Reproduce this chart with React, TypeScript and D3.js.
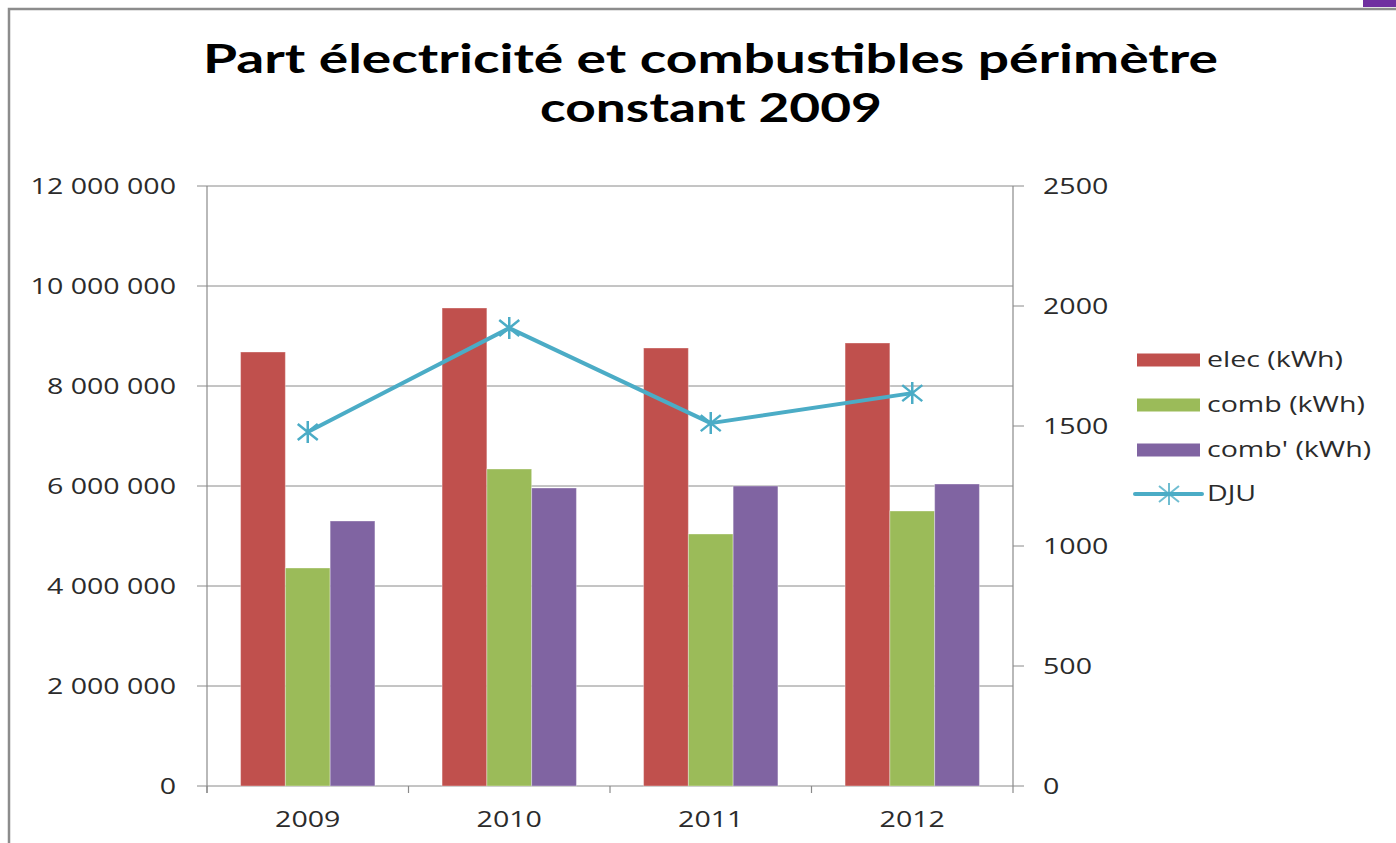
import React from 'react';
import * as d3 from 'd3';

// values
const years = ['2009', '2010', '2011', '2012'];
const elec = [8680000, 9560000, 8760000, 8860000];
const comb = [4360000, 6340000, 5040000, 5500000];
const combPrime = [5300000, 5960000, 6000000, 6040000];
const dju = [1475, 1908, 1512, 1637];

const seriesNames = ['elec (kWh)', 'comb (kWh)', "comb' (kWh)"];
const seriesColors = ['#C0504D', '#9BBB59', '#8064A2'];
const djuName = 'DJU';
const djuColor = '#4BACC6';

const leftTicks = [0, 2000000, 4000000, 6000000, 8000000, 10000000, 12000000];
const rightTicks = [0, 500, 1000, 1500, 2000, 2500];

const titleLines = ['Part électricité et combustibles périmètre', 'constant 2009'];

const W = 1396;
const H = 843;
const font = '"Open Sans", "DejaVu Sans", sans-serif';
const titleFont = 'Lato, "Open Sans", sans-serif';
const textColor = '#2b2b2b';
const gridColor = '#8a8a8a';
const SX = 1.36; // the picture is stretched horizontally

function Txt({ x, y, anchor = 'start', size = 21, weight = 'normal', children }: any) {
  return (
    <text
      transform={`translate(${x},${y}) scale(${SX},1)`}
      textAnchor={anchor}
      fontFamily={font}
      fontSize={size}
      fontWeight={weight}
      fill={textColor}
    >
      {children}
    </text>
  );
}

const starPath = 'M-10,-8L10,8M-10,8L10,-8M0,-11L0,11';

export default function App() {
  const left = 207;
  const right = 1013;
  const top = 186;
  const bottom = 786;

  const x = d3.scaleBand().domain(years).range([left, right]).paddingInner(0).paddingOuter(0);
  const inner = d3.scaleBand().domain(seriesNames).range([0, x.bandwidth()]).paddingInner(0).paddingOuter(0.75);
  const yL = d3.scaleLinear().domain([0, 12000000]).range([bottom, top]);
  const yR = d3.scaleLinear().domain([0, 2500]).range([bottom, top]);

  const fmt = (v: number) => d3.format(',')(v).replace(/,/g, ' ');
  const allSeries = [elec, comb, combPrime];

  const line = d3.line<number>()
    .x((_, i) => (x(years[i]) as number) + x.bandwidth() / 2)
    .y(d => yR(d));

  const legendX = 1137;
  const legendRows = [360, 405, 450, 494];

  return (
    <svg width={W} height={H} style={{ position: 'absolute', left: 0, top: 0, background: '#fff' }}>
      <rect x={0} y={0} width={W} height={H} fill="#fff" />
      {/* slide frame */}
      <rect x={9} y={9} width={W + 10} height={H + 10} fill="none" stroke="#8c8c8c" strokeWidth={2.5} />
      <rect x={1363} y={0} width={W - 1363} height={7} fill="#7030A0" />

      {/* title */}
      <text x={203} y={73} textLength={1015} lengthAdjust="spacingAndGlyphs"
        fontFamily={titleFont} fontSize={40} fontWeight="bold" fill="#000">{titleLines[0]}</text>
      <text x={540} y={122} textLength={342} lengthAdjust="spacingAndGlyphs"
        fontFamily={titleFont} fontSize={40} fontWeight="bold" fill="#000">{titleLines[1]}</text>

      {/* gridlines */}
      {leftTicks.map(t => (
        <line key={'g' + t} x1={left - 10} x2={right} y1={yL(t)} y2={yL(t)} stroke={gridColor} strokeWidth={1} />
      ))}
      {rightTicks.map(t => (
        <line key={'r' + t} x1={right} x2={right + 11} y1={yR(t)} y2={yR(t)} stroke={gridColor} strokeWidth={1} />
      ))}
      <line x1={left} x2={left} y1={top} y2={bottom + 7} stroke={gridColor} strokeWidth={1.2} />
      <line x1={right} x2={right} y1={top} y2={bottom + 7} stroke={gridColor} strokeWidth={1.2} />
      {years.map(yr => (
        <line key={'t' + yr} x1={x(yr) as number} x2={x(yr) as number} y1={bottom} y2={bottom + 7} stroke={gridColor} strokeWidth={1.2} />
      ))}

      {/* bars */}
      {allSeries.map((vals, si) =>
        vals.map((v, i) => (
          <rect
            key={si + '-' + i}
            x={(x(years[i]) as number) + (inner(seriesNames[si]) as number)}
            y={yL(v)}
            width={inner.bandwidth()}
            height={bottom - yL(v)}
            fill={seriesColors[si]}
            stroke="rgba(255,255,255,0.35)"
            strokeWidth={1}
          />
        ))
      )}

      {/* DJU line */}
      <path d={line(dju) || ''} fill="none" stroke={djuColor} strokeWidth={4} strokeLinejoin="round" />
      {dju.map((v, i) => (
        <path key={'m' + i} d={starPath}
          transform={`translate(${(x(years[i]) as number) + x.bandwidth() / 2},${yR(v)})`}
          stroke={djuColor} strokeWidth={2.5} fill="none" />
      ))}

      {/* axis labels */}
      {leftTicks.map(t => (
        <Txt key={'lt' + t} x={176} y={yL(t) + 7.5} anchor="end">{fmt(t)}</Txt>
      ))}
      {rightTicks.map(t => (
        <Txt key={'rt' + t} x={1043} y={yR(t) + 7.5}>{t}</Txt>
      ))}
      {years.map(yr => (
        <Txt key={'c' + yr} x={(x(yr) as number) + x.bandwidth() / 2} y={827} anchor="middle">{yr}</Txt>
      ))}

      {/* legend */}
      {seriesNames.map((n, i) => (
        <g key={'lg' + n}>
          <rect x={legendX} y={legendRows[i] - 6.5} width={63} height={13} fill={seriesColors[i]} />
          <Txt x={1207} y={legendRows[i] + 7}>{n}</Txt>
        </g>
      ))}
      <line x1={legendX - 2} x2={legendX + 65} y1={legendRows[3]} y2={legendRows[3]} stroke={djuColor} strokeWidth={4} strokeLinecap="round" />
      <path d={starPath} transform={`translate(${legendX + 32},${legendRows[3]})`} stroke={djuColor} strokeWidth={2} fill="none" opacity={0.8} />
      <Txt x={1207} y={legendRows[3] + 7}>{djuName}</Txt>
    </svg>
  );
}
